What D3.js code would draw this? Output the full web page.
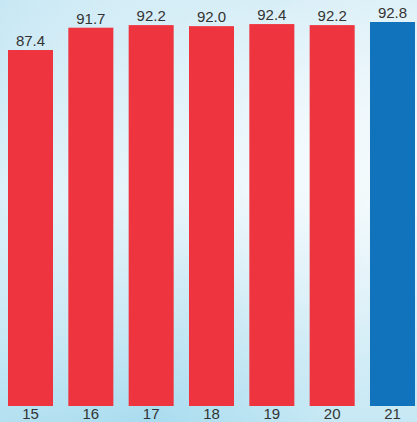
<!DOCTYPE html>
<html>
<head>
<meta charset="utf-8">
<script src="https://cdn.jsdelivr.net/npm/d3@7"></script>
<style>
html,body{margin:0;padding:0;background:#fff;}
svg{display:block;}
</style>
</head>
<body>
<script>
const categories = ["15","16","17","18","19","20","21"];
const values = [87.4, 91.7, 92.2, 92.0, 92.4, 92.2, 92.8];
const labels = ["87.4","91.7","92.2","92.0","92.4","92.2","92.8"];
const highlight = ["21"];

const W = 417, H = 422;
const svg = d3.select("body").append("svg").attr("width", W).attr("height", H);
const defs = svg.append("defs");

const g1 = defs.append("linearGradient").attr("id","bgv").attr("x1",0).attr("y1",0).attr("x2",0).attr("y2",1);
[[0,"#d2ecf6"],[0.45,"#e6f4fa"],[0.75,"#c8e8f4"],[1,"#a8dcef"]].forEach(([o,c])=>g1.append("stop").attr("offset",o).attr("stop-color",c));
const g2 = defs.append("linearGradient").attr("id","bgh").attr("x1",0).attr("y1",0).attr("x2",1).attr("y2",0.3);
[[0,"#b8e1f1",0.45],[0.6,"#ffffff",0.0],[1,"#ffffff",0.35]].forEach(([o,c,a])=>g2.append("stop").attr("offset",o).attr("stop-color",c).attr("stop-opacity",a));
const g3 = defs.append("radialGradient").attr("id","glow").attr("cx",0.75).attr("cy",0.35).attr("r",0.45);
[[0,"#ffffff",0.55],[1,"#ffffff",0]].forEach(([o,c,a])=>g3.append("stop").attr("offset",o).attr("stop-color",c).attr("stop-opacity",a));

svg.append("rect").attr("width",W).attr("height",H).attr("fill","url(#bgv)");
svg.append("rect").attr("width",W).attr("height",H).attr("fill","url(#bgh)");
svg.append("rect").attr("width",W).attr("height",H).attr("fill","url(#glow)");

const x = d3.scaleBand().domain(categories).range([8,415]).paddingInner(0.254).paddingOuter(0);
const y = d3.scaleLinear().domain([18.8, 92.8]).range([406, 22]);

const data = categories.map((c,i)=>({c, v:values[i], l:labels[i]}));

svg.selectAll("rect.bar").data(data).join("rect")
  .attr("class","bar")
  .attr("x", d=>x(d.c))
  .attr("width", x.bandwidth())
  .attr("y", d=>y(d.v))
  .attr("height", d=>y.range()[0]-y(d.v))
  .attr("fill", d=>highlight.includes(d.c) ? "#1173bb" : "#ee343f");

svg.selectAll("text.val").data(data).join("text")
  .attr("class","val")
  .attr("x", d=>x(d.c)+x.bandwidth()/2)
  .attr("y", d=>y(d.v)-4)
  .attr("text-anchor","middle")
  .attr("font-family","'Liberation Sans', Arial, sans-serif")
  .attr("font-size",15)
  .attr("fill","#333")
  .text(d=>d.l);

const axis = d3.axisBottom(x).tickSize(0).tickPadding(0);
const ax = svg.append("g").attr("transform","translate(0,406)").call(axis);
ax.select(".domain").remove();
ax.selectAll("text")
  .attr("font-family","'Liberation Sans', Arial, sans-serif")
  .attr("font-size",15)
  .attr("fill","#333")
  .attr("dy",null)
  .attr("y",13);
</script>
</body>
</html>
